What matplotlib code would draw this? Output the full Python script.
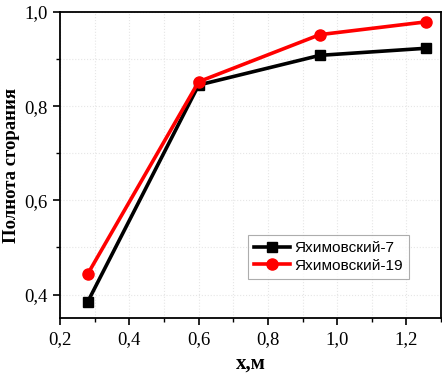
import matplotlib
matplotlib.use("Agg")
import matplotlib.pyplot as plt
from matplotlib.ticker import MultipleLocator, FuncFormatter

# data
x_vals = [0.28, 0.60, 0.95, 1.255]
y_7 = [0.385, 0.845, 0.908, 0.923]
y_19 = [0.444, 0.852, 0.952, 0.979]
label_7 = "Яхимовский-7"
label_19 = "Яхимовский-19"

serif = "Liberation Serif"
sans = "Liberation Sans"

fig = plt.figure(figsize=(4.42, 3.76), dpi=100)
ax = fig.add_axes([0.136, 0.154, 0.862, 0.814])

ax.plot(x_vals, y_7, color="black", lw=2.6, marker="s", ms=7, label=label_7)
ax.plot(x_vals, y_19, color="#ff0000", lw=2.6, marker="o", ms=8, label=label_19)

ax.set_xlim(0.2, 1.3)
ax.set_ylim(0.35, 1.0)
ax.xaxis.set_major_locator(MultipleLocator(0.2))
ax.xaxis.set_minor_locator(MultipleLocator(0.1))
ax.yaxis.set_major_locator(MultipleLocator(0.2))
ax.yaxis.set_minor_locator(MultipleLocator(0.1))
comma = FuncFormatter(lambda v, p: f"{v:.1f}".replace(".", ","))
ax.xaxis.set_major_formatter(comma)
ax.yaxis.set_major_formatter(comma)

ax.grid(True, which="both", color="#e6e6e6", lw=0.8, ls=":")
ax.set_axisbelow(True)

ax.tick_params(which="major", direction="out", length=5, width=1.2, labelsize=13.5, pad=4)
ax.tick_params(which="minor", direction="out", length=3, width=1.0)
for lab in ax.get_xticklabels() + ax.get_yticklabels():
    lab.set_fontfamily(serif)
for sp in ax.spines.values():
    sp.set_linewidth(1.3)

ax.set_xlabel("x,м", fontfamily=serif, fontweight="bold", fontsize=15, labelpad=4)
ax.set_ylabel("Полнота сгорания", fontfamily=serif, fontweight="bold", fontsize=13.5, labelpad=3)

leg = ax.legend(loc="upper left", bbox_to_anchor=(0.493, 0.272), prop={"family": sans, "size": 11.1},
                frameon=True, fancybox=False, edgecolor="#999999", handlelength=2.3,
                handletextpad=0.3, borderpad=0.4, labelspacing=0.25, borderaxespad=0)
leg.get_frame().set_linewidth(0.8)

fig.savefig("out.png", dpi=100)
